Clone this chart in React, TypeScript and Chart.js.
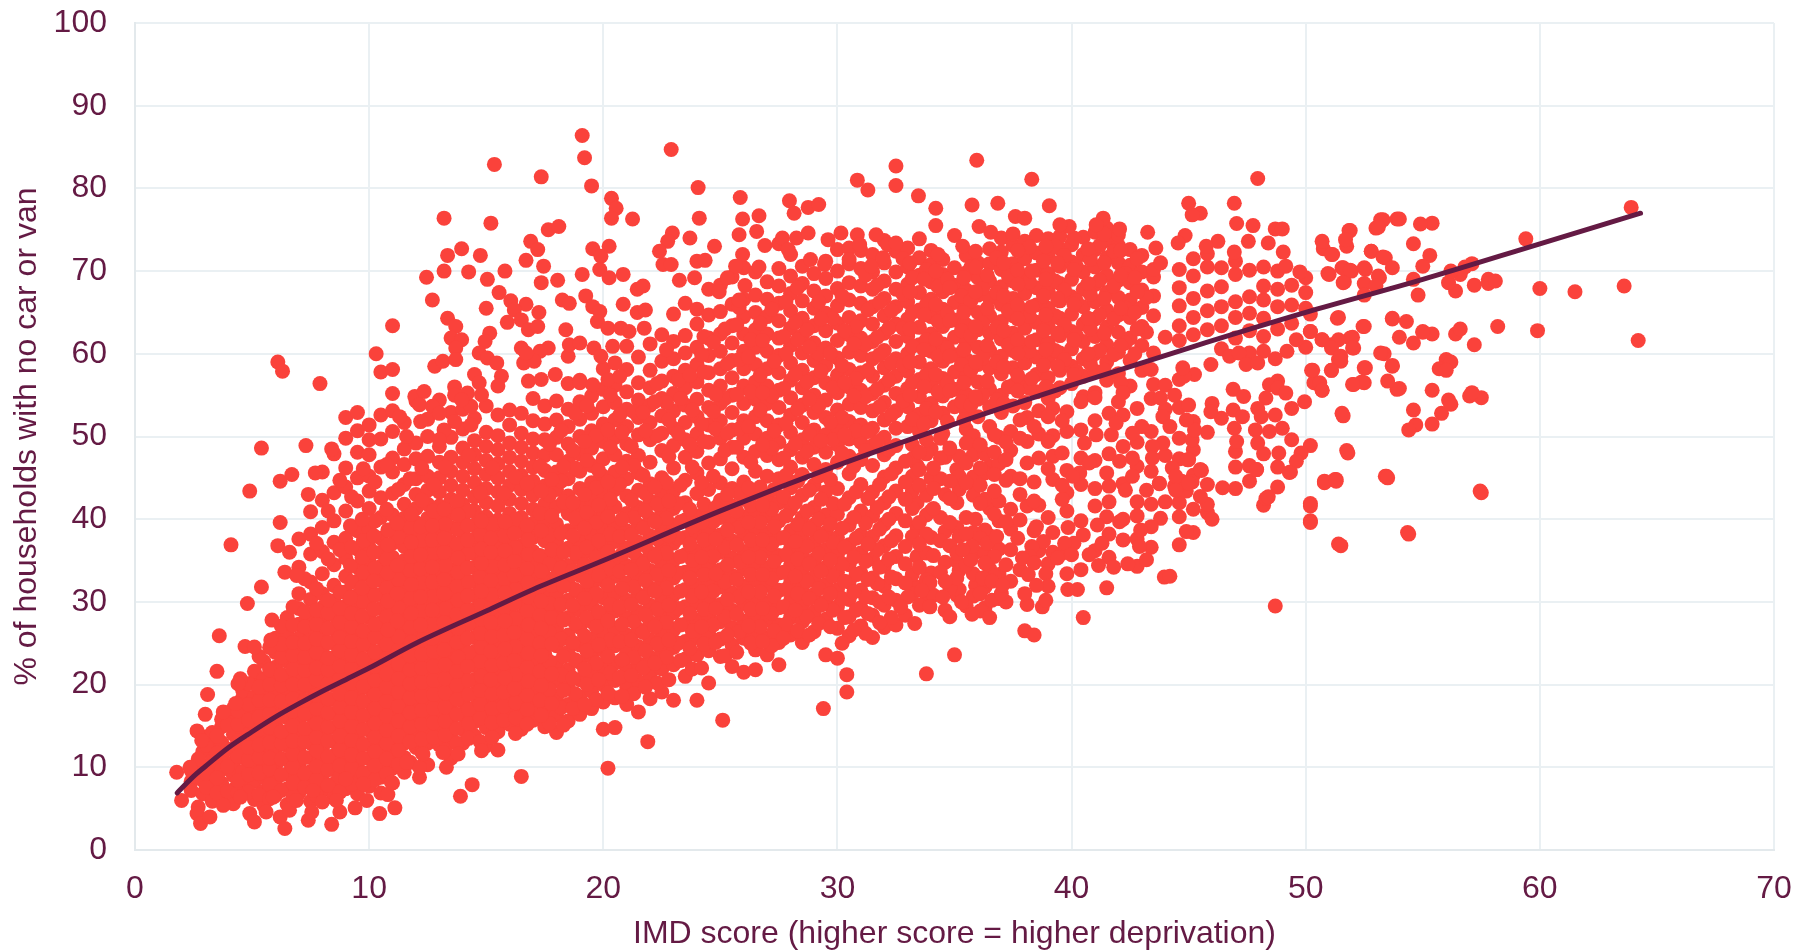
import React, { useEffect, useRef } from "react";
import { Chart, registerables } from "chart.js";

Chart.register(...registerables);

const trendX = [1.8, 2.5, 3, 4, 5, 6, 7, 8, 9, 10, 12, 15, 17, 20, 25, 30, 35, 40, 45, 50, 55, 60, 64.3];
const trendY = [6.9, 8.9, 10.1, 12.4, 14.3, 16.1, 17.7, 19.2, 20.6, 22, 25, 28.9, 31.5, 35, 41, 46.5, 51.5, 56.2, 60.7, 65, 69, 73.3, 77];

// rows: x value, then the y values read at about that x
const denseLow: number[][] = [
  [2.4, 8.3, 9.6, 7.2],
  [2.9, 6.8, 8.4, 10.1, 11.9, 13.7],
  [3.3, 5.9, 7.6, 9.2, 10.8, 12.6, 14.2],
  [3.7, 6.4, 8.1, 9.7, 11.3, 13, 14.9, 15.8],
  [4.2, 5.6, 7.3, 9, 10.6, 12.3, 14, 15.6, 17.1],
  [4.6, 7.8, 9.5, 11.2, 12.9, 14.4, 16.2, 18.4, 19.3],
  [5.1, 6.1, 8.3, 10, 11.7, 13.4, 15.1, 16.9, 18.5, 20.3, 21.6],
  [5.5, 5.4, 7.1, 8.8, 10.5, 12.2, 13.9, 15.6, 17.3, 19, 20.7, 22.8],
  [6, 6.6, 8.3, 10.1, 11.8, 13.5, 15.2, 17, 18.7, 20.4, 22.1, 23.9, 25.6],
  [6.5, 5.5, 7.4, 9.2, 10.9, 12.6, 14.3, 16, 17.7, 19.4, 21.1, 22.8, 24.5, 26.3, 28.1],
  [7, 6.9, 8.6, 10.3, 12, 13.7, 15.4, 17.1, 18.8, 20.5, 22.2, 23.9, 25.6, 27.3, 29.2, 31, 34.2, 37.6],
  [7.5, 5.9, 7.8, 9.5, 11.2, 12.9, 14.6, 16.3, 18, 19.7, 21.4, 23.1, 24.8, 26.5, 28.2, 30.3, 32.4, 35.8, 38.2, 40.9],
  [8, 7.2, 8.9, 10.6, 12.3, 14, 15.7, 17.4, 19.1, 20.8, 22.5, 24.2, 25.9, 27.6, 29.3, 31, 33.4, 36.1, 39, 42.3, 45.7],
  [8.5, 6.3, 8, 9.7, 11.4, 13.1, 14.8, 16.5, 18.2, 19.9, 21.6, 23.3, 25, 26.7, 28.4, 30.1, 32, 34.5, 37.2, 39.8, 43.2, 47.9],
  [9, 7.4, 9.1, 10.8, 12.5, 14.2, 15.9, 17.6, 19.3, 21, 22.7, 24.4, 26.1, 27.8, 29.5, 31.2, 33.1, 35.3, 37.7, 41, 43.9, 46.2, 49.8, 52.3],
  [9.5, 6.8, 8.7, 10.4, 12.1, 13.8, 15.5, 17.2, 18.9, 20.6, 22.3, 24, 25.7, 27.4, 29.1, 30.8, 32.5, 34.2, 36.4, 38.6, 42.2, 45, 48.1, 50.7, 52.9],
  [10, 7.7, 9.4, 11.1, 12.8, 14.5, 16.2, 17.9, 19.6, 21.3, 23, 24.7, 26.4, 28.1, 29.8, 31.5, 33.2, 34.9, 36.6, 38.8, 41.3, 43.4, 45.2, 47.8, 49.6, 51.4],
  [10.5, 6.9, 8.8, 10.5, 12.2, 13.9, 15.6, 17.3, 19, 20.7, 22.4, 24.1, 25.8, 27.5, 29.2, 30.9, 32.6, 34.3, 36, 37.7, 40.2, 42.6, 46.3, 49.7, 52.6, 57.8],
  [11, 8.1, 9.9, 11.6, 13.3, 15, 16.7, 18.4, 20.1, 21.8, 23.5, 25.2, 26.9, 28.6, 30.3, 32, 33.7, 35.4, 37.1, 38.8, 40.5, 43.1, 45.7, 47.4, 50.6, 53.1, 55.2, 58.1],
  [11.5, 9.4, 11.2, 12.9, 14.6, 16.3, 18, 19.7, 21.4, 23.1, 24.8, 26.5, 28.2, 29.9, 31.6, 33.3, 35, 36.7, 38.4, 40.1, 41.8, 44.2, 46.6, 48.5, 51.7],
  [12, 12.4, 14.1, 15.8, 17.5, 19.2, 20.9, 22.6, 24.3, 26, 27.7, 29.4, 31.1, 32.8, 34.5, 36.2, 37.9, 39.6, 41.3, 43, 44.9, 47.3, 49.2, 54.3],
  [12.5, 10.3, 12.9, 14.6, 16.3, 18, 19.7, 21.4, 23.1, 24.8, 26.5, 28.2, 29.9, 31.6, 33.3, 35, 36.7, 38.4, 40.1, 41.8, 43.5, 45.2, 47.6, 50, 52.1],
  [13, 12.7, 14.4, 16.1, 17.8, 19.5, 21.2, 22.9, 24.6, 26.3, 28, 29.7, 31.4, 33.1, 34.8, 36.5, 38.2, 39.9, 41.6, 43.3, 45, 46.9, 48.8, 54.4],
  [13.5, 11.1, 13.5, 15.2, 16.9, 18.6, 20.3, 22, 23.7, 25.4, 27.1, 28.8, 30.5, 32.2, 33.9, 35.6, 37.3, 39, 40.7, 42.4, 44.1, 45.8, 47.5, 49.9, 52.9],
  [14, 12.9, 14.6, 16.3, 18, 19.7, 21.4, 23.1, 24.8, 26.5, 28.2, 29.9, 31.6, 33.3, 35, 36.7, 38.4, 40.1, 41.8, 43.5, 45.2, 46.9, 48.6, 50.9, 53.3],
  [14.5, 13.8, 15.5, 17.2, 18.9, 20.6, 22.3, 24, 25.7, 27.4, 29.1, 30.8, 32.5, 34.2, 35.9, 37.6, 39.3, 41, 42.7, 44.4, 46.1, 47.8, 49.5, 52.2],
  [15, 12.6, 14.8, 16.5, 18.2, 19.9, 21.6, 23.3, 25, 26.7, 28.4, 30.1, 31.8, 33.5, 35.2, 36.9, 38.6, 40.3, 42, 43.7, 45.4, 47.1, 48.8, 50.5, 53.7],
  [15.5, 12.1, 14.3, 16.1, 17.8, 19.5, 21.2, 22.9, 24.6, 26.3, 28, 29.7, 31.4, 33.1, 34.8, 36.5, 38.2, 39.9, 41.6, 43.3, 45, 46.7, 48.4, 50.1, 52.6],
  [16, 15.2, 16.9, 18.6, 20.3, 22, 23.7, 25.4, 27.1, 28.8, 30.5, 32.2, 33.9, 35.6, 37.3, 39, 40.7, 42.4, 44.1, 45.8, 47.5, 49.2, 51.4, 53.2],
  [16.5, 8.9, 14.6, 16.4, 18.1, 19.8, 21.5, 23.2, 24.9, 26.6, 28.3, 30, 31.7, 33.4, 35.1, 36.8, 38.5, 40.2, 41.9, 43.6, 45.3, 47, 48.7, 50.4, 52.8],
  [17, 15.7, 17.4, 19.1, 20.8, 22.5, 24.2, 25.9, 27.6, 29.3, 31, 32.7, 34.4, 36.1, 37.8, 39.5, 41.2, 42.9, 44.6, 46.3, 48, 49.7, 51.9, 54.6],
];

const fillLow: number[][] = [
  [3.05, 7.6, 9.3, 12.7],
  [3.5, 6.9, 8.7, 11.7, 13.8],
  [3.95, 7.1, 10.1, 12.2, 15.1],
  [4.4, 6.9, 8.4, 11.3, 13.2, 15.2, 16.8],
  [4.85, 7, 9.1, 10.9, 12.4, 15.7, 17.6, 20.1],
  [5.3, 6.7, 9.3, 11.2, 12.7, 14.6, 16.1, 18.1, 19.7, 23.4],
  [5.75, 6.2, 7.9, 9.8, 11.1, 13, 14.8, 16.5, 18.1, 20, 21.8, 24.5],
  [6.25, 7.2, 9.1, 11, 12.9, 14.3, 16.2, 18, 19.9, 21.2, 23.3, 24.9, 27.1],
  [6.75, 6.4, 8.1, 10, 11.6, 13.2, 15, 16.8, 18.3, 20, 21.9, 23.6, 25.1, 27.2, 29.4],
  [7.25, 7.6, 9.3, 11.2, 13.1, 14.7, 16.5, 18.1, 20, 21.7, 23.3, 25, 27, 28.8, 32.8],
  [7.75, 6.6, 8.5, 10.1, 12, 13.6, 15.3, 17.1, 18.7, 20.6, 22, 23.9, 25.5, 27.3, 29, 31.6, 37.1],
  [8.25, 7.8, 9.7, 11.3, 13.2, 14.9, 16.6, 18.3, 20.1, 21.8, 23.2, 25.1, 26.8, 28.7, 30.2, 35.2, 41],
  [8.75, 7, 8.8, 10.2, 12.1, 13.8, 15.6, 17.3, 18.9, 20.7, 22.2, 24.1, 25.7, 27.5, 29.2, 31.2, 36.3, 44.7],
  [9.25, 8, 9.9, 11.5, 13.3, 15, 16.7, 18.4, 20.2, 21.9, 23.6, 25.2, 27, 28.6, 32.4, 36.6, 42.7],
  [9.75, 9.3, 11.1, 12.8, 14.6, 16.3, 18, 19.8, 21.5, 23.1, 24.9, 26.5, 30, 33.6, 37.4, 46.1],
  [10.25, 8.5, 10.2, 11.9, 13.7, 15.3, 17.1, 18.8, 20.5, 22.2, 23.9, 25.7, 27.3, 30.8, 34.1, 39.8, 44.5],
  [10.75, 9.2, 11, 12.9, 14.5, 16.2, 18, 19.7, 21.3, 23.2, 24.9, 28.2, 31.7, 35.2, 41.2, 46.6],
  [11.25, 10.4, 12.1, 13.8, 15.6, 17.4, 19.1, 20.7, 22.5, 24.2, 25.8, 29.3, 32.7, 37.8, 43.6],
  [11.75, 10.6, 13.1, 14.9, 16.6, 18.4, 20.1, 21.8, 23.5, 26.9, 30.4, 33.8, 39, 44.9],
  [12.25, 11.8, 13.4, 15.2, 16.9, 18.6, 20.3, 22, 23.7, 25.4, 28.9, 32.3, 37.4, 42.3, 46.2],
  [12.75, 13.6, 15.4, 17.1, 18.8, 20.5, 22.2, 24, 27.3, 30.7, 35.9, 41, 44.2],
  [13.25, 12.1, 13.9, 15.6, 17.3, 19, 20.7, 22.4, 25.9, 29.2, 34.4, 39.4, 46.3],
  [13.75, 12.9, 14.7, 16.4, 18.2, 19.9, 21.6, 25.1, 28.5, 31.9, 37, 42.2],
  [14.25, 13.5, 15.3, 17, 18.8, 20.5, 23.8, 27.3, 32.4, 35.9, 41, 47.7],
  [14.75, 13.1, 15.9, 17.6, 19.3, 22.8, 26.2, 29.6, 33, 38.1, 43.2],
  [15.25, 13.6, 15.4, 17.1, 18.9, 22.3, 25.8, 30.9, 34.3, 39.4, 46.2],
  [15.75, 15.7, 17.4, 19.1, 22.6, 26, 29.4, 32.8, 38, 43.1],
  [16.25, 14.1, 16, 17.8, 21.2, 24.6, 28, 31.5, 36.6, 40, 45.1],
  [16.75, 15.2, 17, 18.7, 22.1, 25.5, 28.9, 34, 39.2, 44.3],
];

const coreLow: number[][] = [
  [9.2, 30.5, 34.4, 39.2],
  [9.7, 28.3, 31.7, 35.4, 40],
  [10.2, 29.1, 32.5, 36, 38],
  [10.8, 26.6, 30.1, 33.5, 36.9, 38.7],
  [11.2, 27.7, 31, 34.4, 39.5],
  [11.8, 25.1, 28.6, 32.1, 35.5, 37.2, 40.6],
  [12.2, 27.2, 30.6, 34, 35.7, 39.1],
  [12.7, 25.6, 29, 32.4, 34.2, 37.5, 39.2],
  [13.2, 24.2, 27.5, 31, 32.7, 36, 37.7, 41.2],
  [13.8, 23.3, 26.8, 30.2, 33.6, 35.3, 38.8, 40.5],
  [14.2, 22.2, 25.6, 29, 30.7, 34.1, 37.5, 39.2],
  [14.8, 21, 24.5, 27.9, 31.3, 34.7, 36.4, 39.8],
  [15.2, 20.6, 24, 27.5, 29.2, 32.6, 36, 37.7],
  [15.8, 20.8, 24.3, 27.7, 31.1, 34.5, 36.2, 39.7],
  [16.2, 19.5, 22.9, 26.3, 29.8, 33.2, 34.9, 38.3],
  [16.8, 20.4, 23.8, 27.2, 30.6, 32.3, 35.8, 37.5],
];

const denseMid: number[][] = [
  [17.5, 14.9, 16.8, 18.6, 20.3, 22, 23.7, 25.4, 27.1, 28.8, 30.6, 33.1, 35.2, 37.4, 39.6, 41.8, 44, 45.9, 47.7, 49.6, 51.5, 53.7],
  [18, 14.2, 16.3, 18.4, 20.5, 22.6, 24.7, 26.8, 28.9, 31, 33.1, 35.2, 37.3, 39.4, 41.5, 43.6, 45.7, 47.8, 49.9, 52, 54.3],
  [18.5, 15.6, 17.6, 19.7, 21.8, 23.9, 26, 28.1, 30.2, 32.3, 34.4, 36.5, 38.6, 40.7, 42.8, 44.9, 47, 49.1, 51.2, 53.3, 56.4],
  [19, 16.4, 18.5, 20.6, 22.7, 24.8, 26.9, 29, 31.1, 33.2, 35.3, 37.4, 39.5, 41.6, 43.7, 45.8, 47.9, 50, 52.1, 54.2, 56.8],
  [19.5, 17.1, 19.2, 21.3, 23.4, 25.5, 27.6, 29.7, 31.8, 33.9, 36, 38.1, 40.2, 42.3, 44.4, 46.5, 48.6, 50.7, 52.8, 54.9],
  [20, 14.6, 17.9, 20, 22.1, 24.2, 26.3, 28.4, 30.5, 32.6, 34.7, 36.8, 38.9, 41, 43.1, 45.2, 47.3, 49.4, 51.5, 53.6, 55.7, 58.2],
  [20.5, 14.8, 18.4, 20.5, 22.6, 24.7, 26.8, 28.9, 31, 33.1, 35.2, 37.3, 39.4, 41.5, 43.6, 45.7, 47.8, 49.9, 52, 54.1, 56.2],
  [21, 17.6, 19.7, 21.8, 23.9, 26, 28.1, 30.2, 32.3, 34.4, 36.5, 38.6, 40.7, 42.8, 44.9, 47, 49.1, 51.2, 53.3, 55.4, 58.1, 60.9],
  [21.5, 16.7, 20.4, 22.5, 24.6, 26.7, 28.8, 30.9, 33, 35.1, 37.2, 39.3, 41.4, 43.5, 45.6, 47.7, 50.2, 52.3, 54.4, 56.5, 59.6],
  [22, 18.3, 21.2, 23.3, 25.4, 27.5, 29.6, 31.7, 33.8, 35.9, 38, 40.1, 42.2, 44.3, 46.9, 49.6, 51.7, 53.8, 55.9, 58, 61.2],
  [22.5, 19.1, 21.9, 24, 26.1, 28.2, 30.3, 32.4, 34.5, 36.6, 38.7, 40.8, 42.9, 45, 48.3, 50.4, 52.5, 54.6, 56.7, 59.1, 62.3],
  [23, 18.1, 22.4, 24.5, 26.6, 28.7, 30.8, 32.9, 35, 37.1, 39.2, 41.3, 43.4, 46.2, 48.9, 51, 53.1, 55.2, 57.3, 59.4, 61.5, 64.8],
  [23.5, 21, 23.1, 25.2, 27.3, 29.4, 31.5, 33.6, 35.7, 37.8, 39.9, 42, 44.7, 47.5, 49.6, 51.7, 53.8, 55.9, 58, 60.1, 62.2, 66.1],
  [24, 18.1, 23.6, 25.7, 27.8, 29.9, 32, 34.1, 36.2, 38.3, 40.4, 43.1, 45.6, 48.2, 50.3, 52.4, 54.5, 56.6, 58.7, 60.8, 63.6, 65.4],
  [24.5, 20.2, 24.1, 26.2, 28.3, 30.4, 32.5, 34.6, 36.7, 38.8, 40.9, 43.6, 46.8, 49.3, 51.4, 53.5, 55.6, 57.7, 59.8, 61.9, 64.7, 67.8],
  [25, 23.4, 25.5, 27.6, 29.7, 31.8, 33.9, 36, 38.1, 40.2, 42.3, 44.4, 47.3, 49.8, 51.9, 54, 56.1, 58.2, 60.3, 62.4, 65.1, 68.3],
  [25.5, 22.2, 24.8, 26.9, 29, 31.1, 33.2, 35.3, 37.4, 39.5, 41.6, 43.7, 46.1, 48.7, 50.8, 52.9, 55, 57.1, 59.2, 61.3, 63.4, 66, 69.3],
  [26, 21.5, 25.6, 27.7, 29.8, 31.9, 34, 36.1, 38.2, 40.3, 42.4, 44.5, 47.5, 49.8, 51.9, 54, 56.1, 58.2, 60.3, 62.4, 64.5, 66.6, 70.4],
  [26.5, 21.8, 24.2, 26.3, 28.4, 30.5, 32.6, 34.7, 36.8, 38.9, 41, 43.1, 45.8, 48.2, 50.3, 52.4, 54.5, 56.6, 58.7, 60.8, 62.9, 65, 67.1, 69.9],
  [27, 23.6, 25.7, 27.8, 29.9, 32, 34.1, 36.2, 38.3, 40.4, 42.5, 45.2, 47.7, 49.8, 51.9, 54, 56.1, 58.2, 60.3, 62.4, 64.5, 66.6, 68.7],
  [27.5, 22.4, 25.1, 27.2, 29.3, 31.4, 33.5, 35.6, 37.7, 39.8, 42, 44.9, 47.2, 49.3, 51.4, 53.5, 55.6, 57.7, 59.8, 61.9, 64, 66.1, 68.2, 70.3, 73.3],
  [28, 26, 28.1, 30.2, 32.3, 34.4, 36.5, 38.6, 41.2, 43.8, 46.3, 48.4, 50.5, 52.6, 54.7, 56.8, 58.9, 61, 63.1, 65.2, 67.3, 69.4, 72],
  [28.5, 25.1, 27.6, 29.7, 31.8, 33.9, 36, 38.1, 40.2, 42.9, 45.4, 47.5, 49.6, 51.7, 53.8, 55.9, 58, 60.1, 62.2, 64.3, 66.4, 68.5, 70.6],
  [29, 26.4, 28.8, 30.9, 33, 35.1, 37.2, 39.3, 41.4, 44.1, 46.6, 48.7, 50.8, 52.9, 55, 57.1, 59.2, 61.3, 63.4, 65.5, 67.6, 69.7],
  [29.5, 23.6, 27.9, 30, 32.1, 34.2, 36.3, 38.4, 40.5, 43.3, 46, 48.1, 50.2, 52.3, 54.4, 56.5, 58.6, 60.7, 62.8, 64.9, 67, 69.1, 71.2],
  [30, 23.2, 26.8, 29.4, 31.5, 33.6, 35.7, 37.8, 40.6, 43.7, 46.9, 49, 51.1, 53.2, 55.3, 57.4, 59.5, 61.6, 63.7, 65.8, 67.9, 70, 72.6],
  [30.5, 25.9, 28.2, 30.3, 32.4, 34.5, 36.9, 39.3, 42.6, 45.5, 47.6, 49.7, 51.8, 53.9, 56, 58.1, 60.2, 62.3, 64.4, 66.5, 68.6, 70.9, 72.8],
  [31, 27.1, 29.3, 31.4, 33.5, 35.9, 38.1, 41, 44.2, 47.2, 49.3, 51.4, 53.5, 55.6, 57.7, 59.8, 61.9, 64, 66.1, 68.2, 70.3, 72.5],
  [31.5, 25.7, 28.4, 30.5, 32.9, 35.2, 37.9, 40.4, 43.3, 46.5, 48.9, 51, 53.1, 55.2, 57.3, 59.4, 61.5, 63.6, 65.7, 67.8, 69.9, 72],
  [32, 26.9, 29.6, 31.9, 34.3, 36.8, 39.4, 42, 45.1, 47.8, 49.9, 52, 54.1, 56.2, 58.3, 60.4, 62.5, 64.6, 66.7, 68.8, 71, 73.7],
  [32.5, 27.2, 30.2, 32.8, 35.5, 38, 40.7, 43.4, 46.2, 48.9, 51, 53.1, 55.2, 57.3, 59.4, 61.5, 63.6, 65.7, 67.8, 69.9, 72.4],
];

const fillMid: number[][] = [
  [17.3, 18.1, 21.6, 25, 28.4, 31.9, 35.6, 40.7, 46.4],
  [17.7, 15.3, 19.4, 22.8, 26.3, 29.8, 34.6, 38.1, 42.9, 49.1],
  [18.2, 17.2, 21.2, 25.5, 29.7, 34.1, 38.3, 44.6, 50.7],
  [18.8, 18.9, 23, 27.4, 31.5, 35.9, 40.1, 46.2, 52.8],
  [19.3, 20, 24.1, 28.1, 32.5, 36.6, 40.8, 47.1, 53.7],
  [19.7, 18.2, 22.6, 27, 31, 35.4, 39.6, 43.8, 50.1],
  [20.3, 21.4, 25.4, 29.7, 34, 38.2, 42.4, 48.7, 55],
  [20.7, 20.9, 25.2, 29.4, 33.7, 37.9, 44.2, 52.6],
  [21.3, 18.9, 23.3, 27.6, 31.8, 36, 40.2, 46.5, 53],
  [21.7, 22, 26.3, 30.5, 34.6, 38.9, 45.3, 52.9],
  [22.3, 20.2, 24.9, 29.1, 33.3, 37.6, 41.8, 50.1, 56.4],
  [22.7, 23.3, 27.5, 31.7, 35.9, 40.1, 44.4, 54.1, 60.5],
  [23.2, 25, 29.2, 33.5, 37.7, 41.9, 50.4, 56.8],
  [23.8, 21.9, 26.5, 30.7, 35, 39.1, 46.3, 53.2],
  [24.3, 24.9, 29.1, 33.3, 37.5, 41.8, 49.4, 57.8, 62.1],
  [24.7, 27.2, 31.3, 35.5, 39.7, 45.2, 53, 61.4],
  [25.2, 23.5, 28.2, 32.4, 36.6, 40.8, 48.3, 54.6, 63],
  [25.8, 26.4, 30.6, 34.8, 39, 43.1, 50.9, 59.3, 65.6],
  [26.3, 25, 29.1, 33.3, 37.5, 41.7, 46.9, 55.4, 61.7],
  [26.7, 27, 31.2, 35.4, 39.6, 43.9, 53.2, 57.4, 63.7],
  [27.2, 24.7, 28.6, 32.8, 37, 41.2, 48.6, 54.9, 65.4],
  [27.8, 27.3, 31.5, 35.7, 40.4, 45.3, 51.6, 60, 66.3],
  [28.3, 26.5, 31, 35.2, 39.4, 44.6, 53.3, 61.7, 68],
  [28.7, 28.2, 32.5, 36.7, 41, 48.2, 56.6, 62.9],
  [29.2, 27.4, 31.6, 35.8, 40, 45.2, 53.7, 60, 66.3],
  [29.8, 29, 33.1, 37.2, 41.9, 49.6, 55.9, 64.3],
  [30.2, 25, 30.4, 34.6, 38.9, 48, 52.3, 58.6, 67],
  [30.8, 29, 33.3, 37.7, 43.3, 50.7, 57, 63.3],
  [31.2, 26.2, 30.6, 34.9, 39.5, 48.3, 54.8, 61.1, 69.5],
  [31.7, 32.2, 36.3, 41.4, 49.4, 55.7, 62, 68.3],
  [32.3, 28.1, 33, 37.4, 45.5, 52.6, 58.9, 65.2],
];

const coreMid: number[][] = [
  [17.35, 16.3, 19.9, 23.5, 26.8, 30.1, 33.7, 38.6, 43.4],
  [17.8, 17.7, 21.3, 24.9, 28.1, 32, 36.3, 40.4, 44.8],
  [18.3, 15.1, 19.3, 23.4, 27.8, 31.9, 36, 42.1, 46.4],
  [18.7, 17.1, 20.8, 25.1, 29.6, 33.8, 38, 42, 48.3],
  [19.2, 17.6, 21.9, 25.9, 30.4, 34.5, 38.9, 43, 49.4],
  [19.8, 20.6, 24.8, 28.8, 33.2, 37.4, 41.7, 45.9],
  [20.2, 19, 23.4, 27.7, 32, 36.1, 40.3, 44.5, 50.8],
  [20.8, 18.6, 23, 27.3, 31.6, 35.8, 40, 46.3, 50.5],
  [21.2, 21.1, 25.4, 29.7, 33.9, 38.1, 42.3, 48.8],
  [21.8, 19.7, 24.1, 28.4, 32.6, 36.8, 41, 43.1, 50.7],
  [22.2, 22.6, 27, 31.3, 35.5, 39.7, 43.9, 54.2],
  [22.8, 20.6, 25.4, 29.6, 33.8, 38, 42.2, 47.6, 52],
  [23.3, 22.9, 27.2, 31.3, 35.5, 39.7, 44.1, 54.6],
  [23.7, 24.4, 28.6, 32.9, 37, 41.2, 49, 57.4],
  [24.2, 22, 27, 31.2, 35.4, 39.6, 44.4, 51.5, 59.9],
  [24.8, 25.1, 29.2, 33.4, 37.6, 41.4, 50.9, 55.1],
  [25.3, 26, 30.3, 34.5, 38.7, 43, 50.4, 58.8],
  [25.7, 23.9, 28.5, 32.7, 36.9, 41, 48.7, 55.1, 63.5],
  [26.2, 27.1, 31.2, 35.4, 39.6, 43.8, 51.2, 59.6],
  [26.8, 25.2, 29.2, 33.3, 37.5, 41.7, 49, 55.3, 61.6],
  [27.3, 26.5, 30.7, 34.9, 39.1, 43.6, 50.7, 59.1],
  [27.7, 25.6, 29.4, 33.6, 37.8, 42.7, 47.4, 55.8, 62.1],
  [28.2, 29, 33.1, 37.3, 42, 49.1, 57.5, 63.8],
  [28.8, 26, 30.4, 34.6, 38.8, 43.5, 50.3, 54.5, 60.8],
  [29.3, 29.6, 33.7, 37.9, 42.4, 49.5, 57.9, 64.2],
  [29.7, 27, 31, 35.1, 39.4, 44.8, 51.7, 60.1],
  [30.3, 28.1, 32.5, 36.6, 41.8, 50.2, 56.5, 62.8],
  [30.7, 26.6, 31.2, 35.4, 40.2, 46.4, 54.9, 61.2],
  [31.3, 28.6, 32.7, 37, 42.5, 50.6, 58, 65.3],
  [31.8, 27.5, 30, 34.2, 38.8, 44.2, 53.6, 59.9, 66.2],
  [32.2, 30.6, 35.2, 40, 42.7, 48.4, 56.8, 63.1],
];

const denseHigh: number[][] = [
  [33, 51.2, 53.6, 55.8, 57.9, 60, 62.1, 64.2, 66.3, 68.4, 70.5, 72.8],
  [33.5, 50.6, 52.7, 54.8, 56.9, 59, 61.1, 63.2, 65.3, 67.4, 69.5, 71.6, 73.9],
  [34, 51.9, 54, 56.1, 58.2, 60.3, 62.4, 64.5, 66.6, 68.7, 70.8, 72.5],
  [34.5, 50.4, 52.8, 54.9, 57, 59.1, 61.2, 63.3, 65.4, 67.5, 69.6, 71.4],
  [35, 53.6, 55.7, 57.8, 59.9, 62, 64.1, 66.2, 68.3, 70.4],
  [35.5, 50.9, 53, 55.1, 57.2, 59.3, 61.4, 63.5, 65.6, 67.7, 69.8, 71.9],
  [36, 52.4, 54.5, 56.6, 58.7, 60.8, 62.9, 65, 67.1, 69.2, 71],
  [36.5, 51.2, 53.6, 55.7, 58.3, 60.4, 62.5, 64.6, 66.7, 68.8, 70.9, 72.7],
  [37, 52.9, 55, 57.6, 59.7, 61.8, 63.9, 66, 68.1, 70.2, 72.3, 74],
  [37.5, 53.7, 56.2, 58.3, 60.4, 62.5, 64.6, 66.7, 68.8, 70.9, 73.1, 74.5],
  [38, 54.1, 56.6, 58.9, 61, 63.1, 65.2, 67.3, 69.4, 71.5, 73.6],
  [38.5, 55.4, 57.5, 59.6, 61.7, 63.8, 65.9, 68, 70.1, 72.2, 74.3],
  [39, 54.6, 57.1, 59.2, 61.3, 63.4, 65.5, 67.6, 69.7, 71.8, 73.9],
  [39.5, 55.9, 58, 60.1, 62.2, 64.3, 66.4, 68.5, 70.6, 72.7, 74.2],
  [40, 56.4, 58.5, 60.6, 62.7, 64.8, 66.9, 69, 71.1, 73.2],
  [40.5, 54.8, 57.3, 59.4, 61.5, 63.6, 65.7, 67.8, 69.9, 72, 74.1],
  [41, 55.3, 57.9, 60, 62.1, 64.2, 66.3, 68.4, 70.5, 72.6, 74.7],
  [41.5, 56.8, 59, 61.1, 63.2, 65.3, 67.4, 69.5, 71.6, 73.7, 75.2],
  [42, 54.2, 57.6, 60.2, 62.6, 64.7, 66.8, 68.9, 71, 73.1, 74.4],
  [42.5, 56.1, 59.2, 61.9, 64.4, 66.5, 68.6, 70.7, 72.6],
  [43, 58, 61, 63.3, 65.6, 67.7, 69.9, 71.9],
  [43.5, 56.3, 60.1, 64.6, 67, 69.3, 70.2],
];

const fillHigh: number[][] = [
  [32.8, 54.3, 58.6, 63.1, 67.2, 71.5],
  [33.2, 52.1, 56.5, 60.9, 65, 69.2],
  [33.8, 53.4, 57.5, 61.7, 66, 70.2],
  [34.3, 55.4, 59.7, 63.9, 68.1, 72],
  [34.7, 51.8, 56.5, 60.7, 64.9, 69],
  [35.3, 54.2, 58.7, 62.8, 67],
  [35.7, 53.8, 58, 62.2, 66.4, 70.5],
  [36.2, 55, 59.5, 63.7, 67.9],
  [36.8, 54.4, 59, 63.2, 67.4, 71.6],
  [37.3, 56, 61.1, 65.2, 69.4],
  [37.7, 57.4, 61.7, 65.9, 70.1],
  [38.2, 55.8, 60.3, 64.5, 68.7, 72.9],
  [38.8, 58.6, 62.8, 67, 71.2],
  [39.3, 55.5, 60.4, 64.6, 68.8, 73],
  [39.7, 59.3, 63.5, 67.7, 71.9],
  [40.2, 57.9, 62.2, 66.4, 70.6],
  [40.8, 58.8, 63, 67.2, 71.4],
  [41.2, 60.4, 64.7, 68.9, 73.1],
  [41.8, 59.9, 64.2, 68.2, 72.4],
  [42.3, 61.3, 65.5, 69.7],
  [42.7, 60, 65, 69.2],
  [43.2, 62.6, 66.8],
];

const coreHigh: number[][] = [
  [33.1, 55, 59, 63, 67.5, 71],
  [33.7, 51.5, 56, 60.5, 64.7, 69],
  [34.2, 53, 57.5, 61.8, 66, 70],
  [34.8, 55.5, 59.7, 64, 68],
  [35.4, 52, 56.5, 60.5, 65, 69.2],
  [35.9, 54.8, 59, 63.3, 67.5, 70.5],
  [36.4, 56.7, 61, 65.5, 69.5],
  [37.1, 54, 58.5, 62.8, 67, 71],
  [37.7, 55.5, 60, 64.2, 68.4, 72.5],
  [38.3, 57, 61.5, 65.7, 70],
  [38.9, 56, 60.5, 64.7, 69, 73],
  [39.4, 58.5, 62.5, 66.7, 71],
  [40.1, 57.5, 61.7, 66, 70.2, 74],
  [40.7, 60, 64.3, 68.5, 72.7],
  [41.4, 58, 62.5, 66.7, 71, 74.5],
  [42.1, 56.5, 61, 65.5, 69.5, 72.5],
  [42.8, 63, 67.5, 71.5],
  [33.4, 31.8, 35.5, 39, 42, 46.5],
  [34, 33.5, 37.8, 41, 45, 48.5],
  [34.6, 29, 34.8, 38.5, 43, 47.5],
  [35.1, 30.8, 34.9, 39, 42, 46],
  [35.9, 32, 36, 40, 44, 48.7],
  [36.5, 34, 38, 41.3, 46.4],
];

// rows: x value, then the y values in the thinner part below and around the curve
const thinBelow: number[][] = [
  [33.2, 31, 33.3, 37.9, 41.3, 43.4, 45.2, 47.3, 49],
  [33.8, 30.2, 32.7, 35.9, 38.2, 40.5, 42.9, 47.9, 49.6],
  [34.4, 33.6, 37.4, 40.2, 44.9, 47.4, 49.8],
  [35.2, 31.5, 33.8, 37.9, 43.6, 45.2, 47.6],
  [35.8, 30.7, 33.4, 38.4, 42.9, 45.1, 47.8, 50.1],
  [36.3, 29.3, 31.8, 36, 38.7, 42.4, 45.6, 47.9],
  [36.9, 30.4, 33.3, 36.4, 39.8, 42.2, 46.7, 49.9],
  [37.4, 32.5, 36.3, 38.8, 41.2, 45.2, 48.3, 50.6],
  [38.1, 29.7, 41.6, 46.8, 49.4, 52.3],
  [38.6, 36.2, 41.7, 47.4, 50.3, 53.1],
  [39.2, 36, 38.4, 44.8, 47.6, 50.1, 53.4],
  [39.8, 33.4, 41, 43.2, 45.9, 50.6, 53],
  [40.4, 33.9, 39.8, 44.2, 47.4, 50.8, 54.2],
  [41, 36.2, 41.6, 43.7, 47.1, 51.9, 54.7],
  [41.6, 35.4, 38.2, 42.1, 44, 47.9, 52.8],
  [42.2, 37.5, 40, 44.3, 48.8, 52.6, 55.3],
  [42.8, 34.3, 37.6, 40.4, 42.1, 46.4, 49.3, 53.4],
  [43.4, 36.6, 41.8, 45.8, 50.6, 54.6, 58.1],
  [44, 42.1, 47.7, 53.3, 56.2, 62],
  [44.6, 36.9, 42, 47.3, 49.8, 53.5, 56.9, 61.6, 63.4, 65.8, 68, 70.2],
  [45.2, 38.4, 41.2, 45.3, 48.4, 51.8, 62.3, 64.4, 66.7, 69.4, 71.5],
  [45.8, 40.8, 44.2, 50.5, 62.9, 65.2, 67.6, 70.5, 72.1],
  [46.4, 52.2, 60.6, 63.4, 65.7, 68.1, 70.4],
  [47, 43.7, 46.3, 48.2, 61.9, 64.4, 66.3, 69.6, 71.2],
  [47.6, 44.6, 62.8, 64.9, 66.9, 70.1],
  [48.2, 41.7, 47.9, 62.1, 64.3, 66.5, 68.2, 70.5],
  [48.8, 43.9, 46.3, 56.7, 63, 65.7, 67.8, 70],
  [49.4, 49.6, 53.4, 63.7, 65.9, 68.3],
  [50, 60.8, 65.5, 67.4, 69.2],
  [32.9, 28.4, 32.3, 34.6, 36.7, 39.8, 42.4, 44.5, 47],
  [33.5, 29.6, 34.2, 37, 39.6, 44.1, 46, 48.1],
  [34.1, 30.8, 35.6, 41.3, 43.7, 46.2],
  [34.8, 28.2, 31.7, 36.8, 39.6, 42.5, 44.6, 48.6],
  [35.5, 29.5, 34.5, 38.2, 40.2, 44.4, 46.8, 49.2],
  [36.1, 28.9, 37.7, 41.9, 44.1, 46.2, 49],
  [36.7, 33.1, 40.6, 43.4, 45.4, 48.1, 50.2],
  [37.2, 30, 39.7, 44.7, 47.2, 49.3],
  [37.8, 33.9, 39.9, 43, 44.9, 49.8, 52],
  [38.4, 38.6, 42.2, 44.5, 51.2],
  [39, 34.6, 40.2, 46.1, 49.4, 52.4],
  [39.6, 35.9, 42.4, 44.1, 48, 51.9],
];

// flat list: x, y, x, y ... for points that stand clear of the cloud
const edgePoints: number[] = [
  19.1, 86.4, 19.2, 83.7, 19.5, 80.3, 15.35, 82.9, 17.35, 81.4, 22.9, 84.7, 13.2, 76.4, 15.2, 75.8, 20.35, 78.8, 20.55, 77.6, 20.35, 76.4, 21.25, 76.3, 24.05, 80.1, 25.85, 78.9, 25.95, 76.3, 26.65, 76.7, 25.8, 74.4, 26.55, 74.8, 26.9, 73.1, 27.95, 78.5, 28.15, 77, 28.75, 77.7, 29.2, 78.05, 30.85, 81, 31.3, 79.8, 32.5, 82.7, 32.5, 80.35,
  17.65, 75, 18.1, 75.4, 16.9, 73.6, 17.2, 72.6, 16.7, 71.3, 17.45, 70.6, 17.35, 68.6, 18.05, 68.9, 13.95, 72.7, 13.35, 71.9, 14.75, 71.9, 13.2, 70, 14.25, 69.9, 12.45, 69.25, 12.7, 66.5, 15.05, 69, 15.8, 70, 15, 65.5, 15.55, 67.4, 16.05, 66.4, 16.7, 66, 18.25, 66.5, 18.55, 66.1, 17.25, 65,
  19.55, 72.7, 20.25, 73, 19.9, 71.8, 19.1, 69.6, 19.25, 67, 19.85, 70.2, 20.25, 69.2, 20.85, 69.6, 21.45, 67.8, 21.7, 68.2, 21.45, 65, 21.8, 65.3, 20.85, 66, 22.95, 74.6, 22.75, 73.6, 23.7, 74, 24.75, 73, 24.1, 76.4, 24, 71.2, 24.35, 71.3, 23.9, 69.2, 23.25, 68.9, 22.4, 72.4, 22.55, 70.8, 22.9, 70.8,
  25.95, 72, 25.65, 70.6, 25.3, 69.2, 26.65, 70.5, 26.05, 68.25, 24.95, 67.5, 25.8, 66.5, 27.65, 74, 28.25, 74, 28.75, 74.6, 27.9, 72.6, 28.85, 71.4, 29.6, 73.8, 30.15, 74.6, 30.85, 74.4, 30.95, 73.2, 31.65, 74.4, 29.45, 70.8, 30.5, 71.4, 31.45, 70.6, 31.95, 71.6, 32.15, 73.2, 32.5, 73.4,
  13.35, 64.3, 13.7, 63.3, 13.5, 61.9, 13.95, 61.7, 13.7, 60.7, 12.8, 58.5, 13.15, 59.1, 13.7, 59.3, 15.15, 62.5, 14.95, 61.5, 14.7, 60.1, 15.05, 59.5, 15.45, 58.9, 15.65, 57.3, 15.5, 56.1, 14.5, 57.5, 14.7, 56.5, 16.2, 65.3, 16.5, 64.1, 15.9, 63.8, 16.8, 62.9, 17.2, 63.3, 16.5, 60.7, 17.65, 60.7, 17.3, 60.3, 16.6, 58.9, 17.05, 59.1, 16.7, 60.1,
  18.4, 62.9, 18.5, 59.7, 18.55, 61.1, 19, 61.3, 19.6, 60.7, 19.9, 59.7, 20.5, 58.9, 20.4, 60.9, 19.55, 65.7, 19.85, 65.1, 19.75, 63.9, 20.2, 63.1, 20.75, 63.1, 21.1, 62.7, 21.75, 63.1, 17.95, 57.5, 16.8, 56.7, 17.35, 56.9, 19, 56.5, 19.55, 56.25, 20.2, 56.9, 20.7, 57.25,
  13.65, 56, 13.65, 55, 11.95, 54.85, 12.35, 55.45, 12.15, 53.85, 12.7, 53.65, 13, 52.8, 12.2, 51.8, 14.35, 53.65, 14.35, 51.4, 13.65, 51.8, 13.2, 50.8, 13, 49.6, 11.6, 50, 11.3, 52.4, 14.2, 55.25, 13.95, 54.45, 14.8, 55.05,
  10.3, 60, 11, 63.4, 6.1, 59, 6.3, 57.9, 7.9, 56.4, 5.4, 48.6, 7.3, 48.9, 4.9, 43.4, 4.1, 36.9, 6.2, 44.6, 6.7, 45.4, 8.4, 48.5, 6.2, 39.6, 6.1, 36.8, 6.6, 36, 5.4, 31.8, 4.8, 29.8, 6.4, 33.6, 6.9, 33.2, 7.4, 43, 7.7, 45.6,
  1.78, 9.4, 1.99, 6, 2.7, 5.2, 2.65, 4.4, 2.8, 3.2, 3.2, 4, 3.77, 5.4, 3.6, 25.9, 3.5, 21.6, 3.1, 18.8, 4.7, 24.6, 5.1, 24.55, 5.8, 25.4, 5.85, 27.8, 3, 16.4, 3.77, 16.7, 4.3, 17.7, 4.5, 20.7, 4.4, 20.1, 2.65, 14.4, 2.85, 13.25, 2.7, 11, 2.35, 10,
  4.9, 4.4, 5.1, 3.4, 5.6, 4.6, 6.2, 4, 6.4, 2.6, 6.6, 4.8, 7.4, 3.6, 7.55, 4.6, 8.4, 3.1, 8.75, 4.6, 9.4, 5.1, 10.45, 4.4, 11.1, 5.1, 10.8, 6.7, 9.9, 6, 8.6, 6, 8, 5.8, 6.9, 6, 12.15, 8.8, 12.15, 10, 11.6, 10.6, 13.3, 10, 14.4, 7.9, 13.9, 6.5, 14.8, 12, 12.3, 11.6, 13.8, 11.6, 13.15, 11.8, 10.95, 8.2, 9.75, 8, 9, 8.6, 7.6, 7.2, 5.9, 6.4, 4.5, 6.4,
  20.2, 9.9, 21.9, 13.1, 25.1, 15.7, 29.4, 17.1, 30.4, 19.1, 30.4, 21.2, 33.8, 21.3, 35, 23.6, 38, 26.5, 38.4, 26, 40.5, 28.1, 36.5, 28.1, 35.75, 28.5, 33.3, 27.4, 48.7, 29.5, 38.75, 29.4, 38.9, 30.2, 38, 31, 39.84, 31.5, 40.25, 31.5, 41.5, 31.7, 43.96, 33, 44.2, 33.1, 41.15, 34.4, 41.8, 34.2, 42.4, 34.6, 43.2, 35.1, 42.9, 36.7, 39.4, 35.3,
  44.9, 38.5, 46, 40, 44.6, 40.3, 43.8, 40.1, 43.4, 39.1, 42.95, 38.7, 50.2, 39.8, 50.2, 41.9, 51.4, 37, 54.35, 38.4, 48.3, 42.5, 46.45, 43.8, 50.8, 44.5, 51.3, 44.8, 53.45, 45.2, 57.45, 43.4, 47.6, 46.5, 47.9, 46, 49.35, 45.7, 45.55, 45.9, 45, 47.2, 45.8, 41.8, 45.5, 42.75, 45.15, 44.5, 44.7, 44.6, 44.4, 44, 44.9, 43.4, 43.75, 44.3,
  42.05, 39.7, 41.5, 40.3, 41.1, 39.3, 41.3, 37.1, 40.5, 38.1, 40.1, 37.1, 39.7, 37.1, 40.75, 35.7, 40, 35.7, 39.85, 39, 38.5, 39.1, 37.7, 37.7, 38.8, 37.3, 38.3, 36.7, 38.2, 35.5, 37.9, 35.3, 38.4, 34.7, 38.15, 33.3, 38.9, 33.4, 39, 31.9, 38.5, 32, 37.2, 34.5, 36.7, 35.5, 36.3, 34.7, 35.7, 35.1, 35.1, 35.9, 36.4, 37.1, 36.8, 37.9, 35.75, 36.7, 35.35, 36.3,
  36.1, 31, 36.6, 30.2, 35.3, 30, 34.5, 30.6, 33.95, 29.4, 35.1, 32.9, 34.6, 32.5, 36.2, 32.9, 36.6, 32.5, 37, 31, 37.05, 32, 33.95, 32.3, 33.6, 31.4, 33, 30.6, 32.7, 29.4,
  35.95, 83.4, 38.3, 81.1, 47.95, 81.2, 33.46, 79.1, 34.2, 77.6, 34.2, 75.5, 35.75, 78, 36.85, 78.2, 39.05, 77.9, 45, 78.2, 45.5, 77, 45.15, 76.8, 46.95, 78.2, 47.05, 75.75, 47.75, 75.5, 48.7, 75.1, 49, 75.1, 47.55, 73.6, 48.4, 73.4, 49.04, 72.3, 46.95, 72.3, 49.15, 70.6, 49.75, 69.9, 50.75, 72.7, 51.15, 72, 51.85, 74.9, 51.75, 73, 50.95, 69.7, 51.55, 70.4, 51.95, 70, 51.65, 68.7, 52.55, 70.2, 52.8, 72.4, 53.4, 71.6, 53.2, 76.2, 53, 75.2, 53.9, 76.3, 53.15, 69.2,
  43.25, 74.7, 42.05, 75.1, 41.35, 76.4, 41.05, 75.6, 39.9, 75.4, 39.5, 75.6, 37.6, 76.6, 38, 76.4, 36.05, 75.4, 36.55, 74.7, 35, 74.3, 35.35, 73, 35.9, 72.4, 44.85, 74.3, 44.55, 73.4, 46.25, 73.6, 45.75, 73, 43.6, 72.8, 43.8, 71,
  51.35, 64.3, 52.45, 63.3, 53.7, 64.2, 50.2, 62.7, 49.6, 61.7, 49.2, 60.3, 48.7, 59.4, 45.95, 58.7, 46.75, 59.7, 47.6, 60.1, 47.15, 60.1, 48.2, 60.3, 47.45, 58.7, 47.95, 58.9, 45.25, 57.5, 44.8, 57.3, 44.75, 58.3, 52, 62, 52.05, 60.7, 51.4, 59.3, 51.1, 61.1, 50.7, 61.7, 53.35, 60, 53.7, 58.5, 53.9, 55.7, 50.25, 58, 51.1, 58, 52.55, 58.3, 52.05, 56.3, 52.5, 56.5, 50.7, 55.6, 50.35, 56.5, 49.95, 54.2, 51.55, 52.8,
  46.9, 55.7, 47.35, 54.85, 48.45, 56.25, 48.8, 55.85, 49.15, 55.25, 48.3, 54.65, 47.95, 53.4, 48.1, 52.4, 48.7, 52.6, 49, 51, 48.45, 50.6, 47.85, 50.8, 47.95, 49.2, 46.9, 53.2, 47.3, 52.4, 46.95, 51, 47.05, 49.4, 46, 54, 45.95, 53, 45.15, 49.6, 45.25, 50.8, 44.9, 52, 45, 53.8, 44.4, 55, 43.8, 54.65, 48.85, 48, 50.2, 48.9, 49.8, 48, 49.6, 47, 49.3, 45.65, 51.75, 48.3, 53.4, 45.2, 51.25, 44.8, 50.8, 44.6, 44.95, 47.2, 45.5, 46, 47.6, 46.4, 47.9, 46, 48.4, 42.7, 44.3, 46.2,
  40.55, 49.2, 41.05, 50.2, 41.7, 50.2, 41.9, 51.6, 43, 51.2, 43.9, 52.4, 44.2, 51.2, 43.9, 49.2, 43.45, 48.8, 42.6, 50.4, 43.45, 47.4, 42.6, 47.4, 42.05, 47, 41.5, 45.6, 40.75, 46.8, 40.35, 45.6, 40.05, 45.2, 42.6, 45.2, 43.2, 43.5, 42.3, 43.5, 43.75, 44.35, 44.45, 45.2, 45, 44.35, 44.45, 43.5,
  63.9, 77.7, 59.4, 73.9, 63.6, 68.2, 61.5, 67.5, 60, 67.9, 59.9, 62.8, 64.2, 61.6, 58.2, 63.3, 57.8, 69, 57.8, 68.5, 57.2, 61.1, 57.2, 68.3, 56.4, 67.6, 56.1, 68.6, 56.4, 62.4, 56.6, 63, 56, 59.3, 55.7, 58.2, 54.8, 67.1, 54.6, 73.3, 55.3, 71.9, 55.4, 75.8, 54.9, 75.7, 54, 76.3, 53.3, 76.2, 53.1, 75.3, 51.9, 74.9, 51.7, 73.8, 50.7, 73.6, 51.1, 72, 52.8, 72.4, 53.3, 71.7, 53.7, 70.4, 55, 70.6, 54.6, 69, 53.1, 69.4, 52.5, 70.4, 51.6, 70.4, 51.9, 70.1, 51, 69.6, 51.6, 68.6, 52.5, 68.5, 52.5, 67.1, 53, 68.2,
  56.8, 70.5, 57.1, 70.9, 56.6, 69.6, 56.2, 70, 51.4, 64.4, 50.2, 64.8, 53.7, 64.3, 54.3, 63.9, 52.5, 63.3, 55, 62.7, 55.4, 62.4, 50.2, 62.7, 54, 62, 54.6, 61.3, 51.9, 61.9, 52, 60.7, 51.4, 61.7, 50.7, 61.7, 51.1, 60.7, 51.5, 59.7, 51.5, 59.1, 53.2, 60.1, 53.7, 58.6, 52.5, 58.3, 51.1, 58, 50.3, 58, 52.4, 56.6, 52, 56.3, 50.6, 56.5, 50.7, 55.6, 54, 55.8, 56.1, 54.4, 57, 54.9, 57.5, 54.7, 57.1, 55.3, 51.5, 36.8, 54.4, 38.2, 57.5, 43.2, 53.5, 45, 50.8, 44.4, 51.3, 44.6, 51.8, 48, 51.6, 52.5, 50.2, 41.6, 50.2, 39.6, 54.7, 51.4, 54.4, 50.8, 54.6, 53.2, 55.8, 52.8, 56.2, 53.9, 56.2, 59, 56, 58, 55.4, 55.6, 53.5, 56.7, 55.4, 51.5, 55, 62.6, 58.1, 68.8,
];

const bands = [denseLow, fillLow, coreLow, denseMid, fillMid, coreMid, denseHigh, fillHigh, coreHigh, thinBelow];

function toPoints() {
  const pts: { x: number; y: number }[] = [];
  for (const band of bands) {
    for (const row of band) {
      for (let i = 1; i < row.length; i++) pts.push({ x: row[0], y: row[i] });
    }
  }
  for (let i = 0; i + 1 < edgePoints.length; i += 2) pts.push({ x: edgePoints[i], y: edgePoints[i + 1] });
  return pts;
}

const TEXT = "#641A44";
const GRID = "#EAF0F3";
const DOT = "#FA423B";
const FONT = '"Liberation Sans", Arial, sans-serif';

export default function App() {
  const ref = useRef<HTMLCanvasElement>(null);
  useEffect(() => {
    document.body.style.margin = "0";
    const chart = new Chart(ref.current!, {
      type: "scatter",
      data: {
        datasets: [
          {
            label: "Trend",
            type: "line",
            data: trendX.map((x, i) => ({ x, y: trendY[i] })),
            borderColor: TEXT,
            borderWidth: 5,
            pointRadius: 0,
            cubicInterpolationMode: "monotone",
            borderCapStyle: "round",
            order: 0,
            fill: false,
          } as any,
          {
            label: "Areas",
            data: toPoints(),
            backgroundColor: DOT,
            borderWidth: 0,
            pointRadius: 7.5,
            order: 1,
          },
        ],
      },
      options: {
        responsive: false,
        animation: false,
        events: [],
        layout: { padding: { top: 23, right: 31, left: 8, bottom: 0 } },
        plugins: { legend: { display: false }, tooltip: { enabled: false } },
        scales: {
          x: {
            type: "linear",
            min: 0,
            max: 70,
            ticks: { stepSize: 10, color: TEXT, font: { family: FONT, size: 32 }, padding: 20, maxRotation: 0 },
            grid: { color: GRID, lineWidth: 2, drawTicks: false },
            border: { color: "#E3E9EC", width: 2 },
            title: { display: true, text: "IMD score (higher score = higher deprivation)", color: TEXT, font: { family: FONT, size: 32 }, padding: { top: 4, bottom: -2 } },
            afterFit: (s: any) => { s.height = 101; s.paddingLeft = 0; s.paddingRight = 0; },
          },
          y: {
            type: "linear",
            min: 0,
            max: 100,
            ticks: { stepSize: 10, color: TEXT, font: { family: FONT, size: 32 }, padding: 28 },
            grid: { color: GRID, lineWidth: 2, drawTicks: false },
            border: { color: "#E3E9EC", width: 2 },
            title: { display: true, text: "% of households with no car or van", color: TEXT, font: { family: FONT, size: 32 }, padding: 0 },
            afterFit: (s: any) => { s.width = 127; s.paddingTop = 0; s.paddingBottom = 0; },
          },
        },
      },
    });
    return () => chart.destroy();
  }, []);
  return <canvas ref={ref} width={1805} height={951} style={{ display: "block" }} />;
}
